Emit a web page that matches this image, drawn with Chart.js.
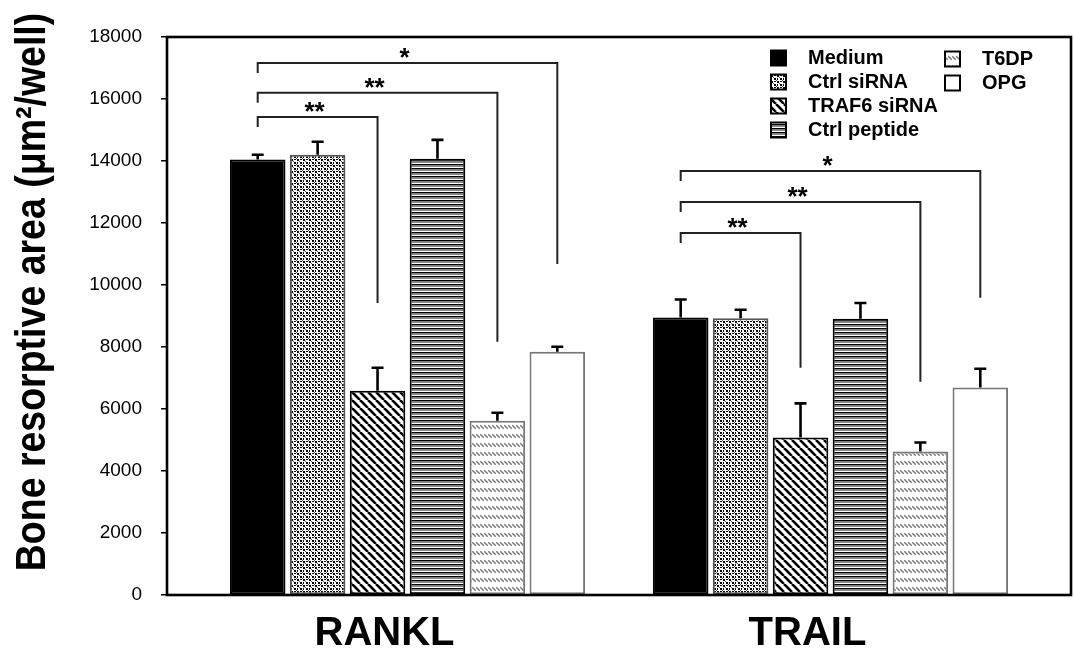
<!DOCTYPE html>
<html><head><meta charset="utf-8">
<script src="https://cdn.jsdelivr.net/npm/chart.js@4.4.1/dist/chart.umd.min.js"></script>
<style>html,body{margin:0;padding:0;background:#fff}#wrap{width:1074px;height:653px;position:relative}</style>
</head><body><div id="wrap"><canvas id="c"></canvas></div>
<script>
// ---- data ----
const categories = ['RANKL', 'TRAIL'];
const seriesNames = ['Medium', 'Ctrl siRNA', 'TRAF6 siRNA', 'Ctrl peptide', 'T6DP', 'OPG'];
const medium      = [14050, 8950];
const ctrlSiRNA   = [14200, 8930];
const traf6SiRNA  = [6590, 5080];
const ctrlPeptide = [14070, 8910];
const t6dp        = [5620, 4630];
const opg         = [7850, 6690];
const errMedium      = [150, 580];
const errCtrlSiRNA   = [420, 270];
const errTraf6SiRNA  = [740, 1100];
const errCtrlPeptide = [610, 510];
const errT6dp        = [260, 290];
const errOpg         = [160, 610];
const yMin = 0, yMax = 18000, yStep = 2000;
const yTitle = 'Bone resorptive area (μm²/well)';
// significance brackets
const bracketCategory = [0, 0, 0, 1, 1, 1];
const bracketFrom     = [0, 0, 0, 0, 0, 0];
const bracketTo       = [2, 4, 5, 2, 4, 5];
const bracketTop      = [15420, 16200, 17160, 11680, 12680, 13680];
const bracketEnd      = [9420, 8170, 10680, 7330, 6880, 9590];
const bracketLabel    = ['**', '**', '*', '**', '**', '*'];

const seriesValues = [medium, ctrlSiRNA, traf6SiRNA, ctrlPeptide, t6dp, opg];
const seriesErrors = [errMedium, errCtrlSiRNA, errTraf6SiRNA, errCtrlPeptide, errT6dp, errOpg];

// ---- patterns ----
function tile(w, h, draw) {
  const c = document.createElement('canvas');
  c.width = w; c.height = h;
  const g = c.getContext('2d');
  g.fillStyle = '#fff'; g.fillRect(0, 0, w, h);
  draw(g);
  return document.createElement('canvas').getContext('2d').createPattern(c, 'repeat');
}
const patDots = tile(6, 6, g => {
  g.fillStyle = '#000';
  g.fillRect(0, 0, 2, 2); g.fillRect(3, 3, 2, 2);
  g.fillRect(3, 0, 1, 2); g.fillRect(0, 3, 2, 1);
  g.fillStyle = '#555';
  g.fillRect(2, 2, 1, 1); g.fillRect(5, 5, 1, 1);
});
const patDiag = tile(8, 8, g => {
  g.strokeStyle = '#000'; g.lineWidth = 2.6;
  for (const k of [-8, 0, 8]) { g.beginPath(); g.moveTo(k, 0); g.lineTo(k + 8, 8); g.stroke(); }
});
const patHLines = tile(4, 4, g => {
  g.fillStyle = '#000'; g.fillRect(0, 0, 4, 1.5);
  g.fillStyle = '#888'; g.fillRect(0, 2, 4, 1);
});
const patT6 = tile(4, 9, g => {
  g.strokeStyle = '#777'; g.lineWidth = 1.3;
  g.beginPath(); g.moveTo(0.3, 2.3); g.lineTo(3.7, 5.7); g.stroke();
});
const fills = ['#000', patDots, patDiag, patHLines, patT6, '#fff'];
const borders = ['#000', '#555', '#000', '#000', '#777', '#777'];

const FONT = "'Liberation Sans', Arial, sans-serif";

// ---- plugins ----
const decor = {
  id: 'decor',
  afterDatasetsDraw(chart) {
    const ctx = chart.ctx, ys = chart.scales.y;
    ctx.save();
    // error bars
    ctx.strokeStyle = '#000'; ctx.lineWidth = 2.6; ctx.lineCap = 'butt';
    seriesValues.forEach((vals, i) => {
      const meta = chart.getDatasetMeta(i);
      meta.data.forEach((el, j) => {
        const yt = ys.getPixelForValue(vals[j] + seriesErrors[i][j]);
        ctx.beginPath();
        ctx.moveTo(el.x, el.y); ctx.lineTo(el.x, yt);
        ctx.moveTo(el.x - 6, yt); ctx.lineTo(el.x + 6, yt);
        ctx.stroke();
      });
    });
    // brackets
    ctx.strokeStyle = '#222'; ctx.lineWidth = 2; ctx.lineJoin = 'miter';
    ctx.fillStyle = '#000';
    ctx.font = 'bold 26px ' + FONT;
    ctx.textAlign = 'center'; ctx.textBaseline = 'alphabetic';
    bracketTop.forEach((top, k) => {
      const c = bracketCategory[k];
      const x1 = chart.getDatasetMeta(bracketFrom[k]).data[c].x;
      const x2 = chart.getDatasetMeta(bracketTo[k]).data[c].x;
      const yTop = ys.getPixelForValue(top);
      const yEnd = ys.getPixelForValue(bracketEnd[k]);
      ctx.beginPath();
      ctx.moveTo(x1, yTop + 10); ctx.lineTo(x1, yTop); ctx.lineTo(x2, yTop); ctx.lineTo(x2, yEnd);
      ctx.stroke();
      ctx.fillText(bracketLabel[k], (x1 + x2) / 2 - 3, yTop + 3);
    });
    ctx.restore();
  },
  afterDraw(chart) {
    const ctx = chart.ctx, a = chart.chartArea;
    ctx.save();
    // frame
    ctx.strokeStyle = '#000'; ctx.lineWidth = 2.6;
    ctx.strokeRect(a.left, a.top, a.right - a.left, a.bottom - a.top);
    // y title
    ctx.translate(33, 292);
    ctx.rotate(-Math.PI / 2);
    ctx.scale(1, 1.12);
    ctx.font = 'bold 37.5px ' + FONT;
    ctx.fillStyle = '#000'; ctx.textAlign = 'center'; ctx.textBaseline = 'middle';
    ctx.fillText(yTitle, 0, 0);
    ctx.restore();
    // legend
    ctx.save();
    const pos = [[771, 58], [771, 82], [771, 106], [771, 130], [945, 59], [945, 83]];
    ctx.font = 'bold 20px ' + FONT;
    ctx.textAlign = 'left'; ctx.textBaseline = 'middle';
    seriesNames.forEach((name, i) => {
      const [x, y] = pos[i];
      ctx.fillStyle = fills[i];
      ctx.fillRect(x, y - 7.5, 15, 15);
      ctx.strokeStyle = '#000'; ctx.lineWidth = 2;
      ctx.strokeRect(x, y - 7.5, 15, 15);
      ctx.fillStyle = '#000';
      ctx.fillText(name, x + 37, y);
    });
    ctx.restore();
  }
};

new Chart(document.getElementById('c'), {
  type: 'bar',
  data: {
    datasets: seriesNames.map((name, i) => ({
      label: name,
      data: categories.map((c, j) => ({ x: j, y: seriesValues[i][j] })),
      backgroundColor: fills[i],
      borderColor: borders[i],
      borderWidth: 2,
      borderSkipped: false
    }))
  },
  options: {
    responsive: true, maintainAspectRatio: false, animation: false,
    layout: { padding: { top: 37, right: 3, left: 0, bottom: 0 } },
    plugins: { legend: { display: false }, tooltip: { enabled: false } },
    datasets: { bar: { categoryPercentage: 0.85, barPercentage: 0.927 } },
    scales: {
      x: {
        type: 'linear', min: -0.5686, max: 1.5686, offset: false,
        grid: { display: false }, border: { display: false },
        ticks: {
          stepSize: 1, includeBounds: false, autoSkip: false, maxRotation: 0,
          labelOffset: -23, padding: 7, color: '#000',
          font: { family: FONT, size: 40, weight: 'bold' },
          callback: v => (categories[v] !== undefined ? categories[v] : '')
        },
        afterBuildTicks: s => { s.ticks = categories.map((c, i) => ({ value: i })); },
        afterFit: s => { s.height = 58; }
      },
      y: {
        min: yMin, max: yMax,
        ticks: { stepSize: yStep, padding: 19, color: '#000', font: { family: FONT, size: 19 },
                 callback: v => String(v) },
        grid: { drawOnChartArea: false, tickLength: 6, color: '#000', lineWidth: 1.5 },
        border: { display: false },
        afterFit: s => { s.width = 167; }
      }
    }
  },
  plugins: [decor]
});
</script>
</body></html>
